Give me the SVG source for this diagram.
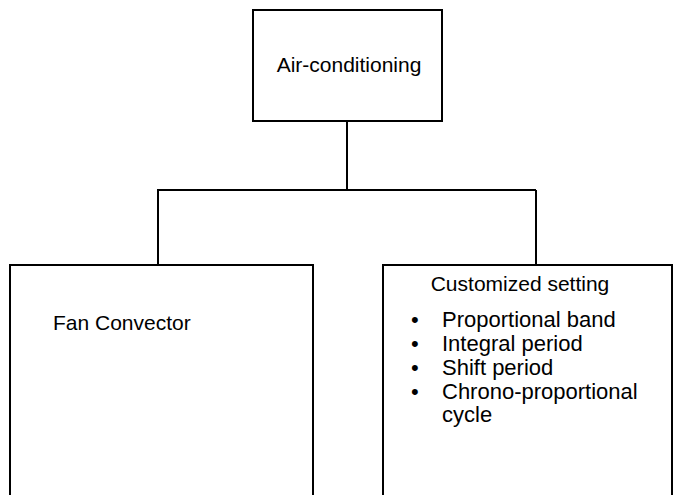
<svg xmlns="http://www.w3.org/2000/svg" width="675" height="495" viewBox="0 0 675 495">
<style>
.box{fill:#fff;stroke:#000;stroke-width:2}
.ln{fill:none;stroke:#000;stroke-width:2}
text{font-family:"Liberation Sans",Arial,sans-serif;font-size:21px;fill:#000}
.c{text-anchor:middle}
.li{font-size:22px}
</style>
<rect width="675" height="495" fill="#fff"/>
<g id="connectors">
<path class="ln" d="M347,121 V190 M158,190 H536 M158,189 V265 M536,190 V265"/>
</g>
<g id="air-conditioning">
<rect class="box" x="253" y="10" width="189" height="111"/>
<text class="c" x="349" y="72">Air-conditioning</text>
</g>
<g id="fan-convector">
<rect class="box" x="10" y="265" width="303" height="240"/>
<text x="53" y="330">Fan Convector</text>
</g>
<g id="customized-setting">
<rect class="box" x="383" y="265" width="289" height="240"/>
<text class="c" x="520" y="291">Customized setting</text>
<text class="li" x="411" y="327">•</text><text class="li" x="442" y="327">Proportional band</text>
<text class="li" x="411" y="351">•</text><text class="li" x="442" y="351">Integral period</text>
<text class="li" x="411" y="375">•</text><text class="li" x="442" y="375">Shift period</text>
<text class="li" x="411" y="399">•</text><text class="li" x="442" y="399">Chrono-proportional</text>
<text class="li" x="442" y="422">cycle</text>
</g>
</svg>
